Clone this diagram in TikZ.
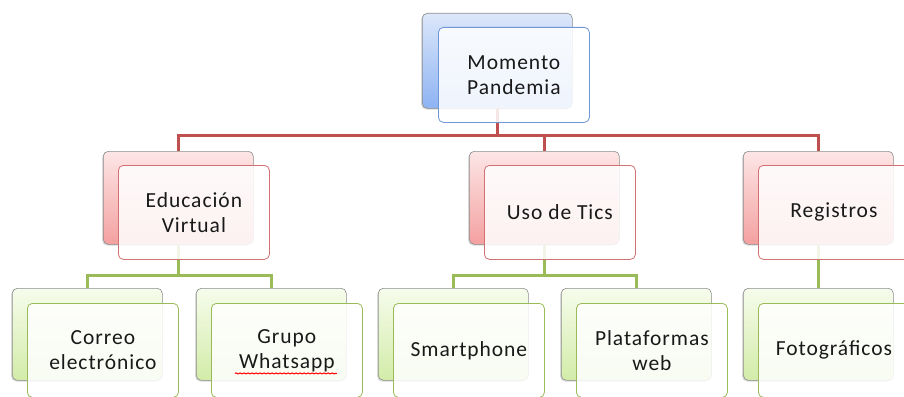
\documentclass[tikz,border=0pt]{standalone}
\usepackage{fontspec}
\setmainfont{Carlito}[LetterSpace=4.5]
\usetikzlibrary{calc,shadows,decorations.pathmorphing}
\definecolor{bluetop}{HTML}{DCE7FA}
\definecolor{bluebot}{HTML}{8DB3F2}
\definecolor{blueline}{HTML}{6F97D6}
\definecolor{redtop}{HTML}{FDE6E6}
\definecolor{redbot}{HTML}{F4A0A0}
\definecolor{redline}{HTML}{D27073}
\definecolor{redconn}{HTML}{C0504D}
\definecolor{greentop}{HTML}{F6FCEC}
\definecolor{greenbot}{HTML}{D2ECA8}
\definecolor{greenline}{HTML}{9BBB59}
\definecolor{greenconn}{HTML}{9BBB59}
\tikzset{
  backbox/.style={draw=black!45, line width=0.6pt, rounded corners=5pt,
    minimum width=150pt, anchor=north west, inner sep=0pt,
    drop shadow={shadow xshift=-1.2pt, shadow yshift=-1.2pt, opacity=0.3}},
  bluebk/.style={backbox, minimum height=95pt, top color=bluetop, bottom color=bluebot},
  redbk/.style={backbox, minimum height=93pt, top color=redtop, bottom color=redbot},
  greenbk/.style={backbox, minimum height=92pt, top color=greentop, bottom color=greenbot},
  frontbox/.style={line width=0.8pt, rounded corners=5pt, fill=white, fill opacity=0.86,
    text opacity=1, minimum width=151pt, minimum height=94pt, anchor=north west,
    align=center, inner sep=0pt, text=black!90,
    font=\fontsize{21.5}{25}\selectfont},
  bluefr/.style={frontbox, draw=blueline, minimum height=95pt},
  redfr/.style={frontbox, draw=redline},
  greenfr/.style={frontbox, draw=greenline},
  redconnector/.style={draw=redconn, line width=3pt},
  greenconnector/.style={draw=greenconn, line width=3pt},
}
\begin{document}
\begin{tikzpicture}[x=1pt,y=-1pt]
\useasboundingbox (0,0) rectangle (904,396);
\clip (0,0) rectangle (904,396);
% back boxes
\node[bluebk]  (mp_b) at (422,13) {};
\node[redbk]   (ev_b) at (103,151) {};
\node[redbk]   (ut_b) at (469,151) {};
\node[redbk]   (rg_b) at (743,151) {};
\node[greenbk] (ce_b) at (12,288) {};
\node[greenbk] (gw_b) at (196,288) {};
\node[greenbk] (sp_b) at (378,288) {};
\node[greenbk] (pw_b) at (561,288) {};
\node[greenbk] (fo_b) at (743,288) {};
% connectors
\coordinate (j1) at ($(mp_b.south)+(0,27)$);
\draw[redconnector] (mp_b.south) -- (j1);
\draw[redconnector] (j1) -| (ev_b.north);
\draw[redconnector] (j1) -| (ut_b.north);
\draw[redconnector] (j1) -| (rg_b.north);
\coordinate (j2) at ($(ev_b.south)+(0,31)$);
\draw[greenconnector] (ev_b.south) -- (j2);
\draw[greenconnector] (j2) -| (ce_b.north);
\draw[greenconnector] (j2) -| (gw_b.north);
\coordinate (j3) at ($(ut_b.south)+(0,31)$);
\draw[greenconnector] (ut_b.south) -- (j3);
\draw[greenconnector] (j3) -| (sp_b.north);
\draw[greenconnector] (j3) -| (pw_b.north);
\draw[greenconnector] (rg_b.south) -- (fo_b.north);
% front boxes
\node[bluefr]  (mp) at (438,27) {Momento\\Pandemia};
\node[redfr]   (ev) at (118,165) {Educación\\Virtual};
\node[redfr]   (ut) at (484,165) {Uso de Tics};
\node[redfr]   (rg) at (758,165) {Registros};
\node[greenfr] (ce) at (27,303) {Correo\\electrónico};
\node[greenfr] (gw) at (211,303) {Grupo\\Whatsapp};
\node[greenfr] (sp) at (393,303) {Smartphone};
\node[greenfr] (pw) at (576,303) {Plataformas\\web};
\node[greenfr] (fo) at (758,303) {Fotográficos};
% spell-check underline
\draw[red, line width=1pt, decorate, decoration={snake, amplitude=0.5pt, segment length=4pt}]
  ($(gw.center)+(-52,23)$) -- ($(gw.center)+(50,23)$);
\end{tikzpicture}
\end{document}
